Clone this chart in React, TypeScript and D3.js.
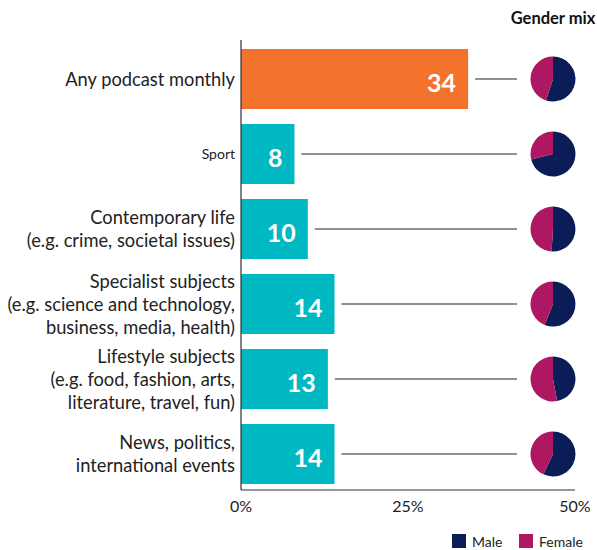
import React from "react";
import * as d3 from "d3";

const categories: string[][] = [
  ["Any podcast monthly"],
  ["Sport"],
  ["Contemporary life", "(e.g. crime, societal issues)"],
  ["Specialist subjects", "(e.g. science and technology,", "business, media, health)"],
  ["Lifestyle subjects", "(e.g. food, fashion, arts,", "literature, travel, fun)"],
  ["News, politics,", "international events"],
];
const values: number[] = [34, 8, 10, 14, 13, 14];
const malePct: number[] = [55, 71, 51, 56, 47, 57];
const tickValues: number[] = [0, 25, 50];
const legendItems = ["Male", "Female"];

const W = 597;
const H = 550;
const FONT = "Lato, 'Open Sans', sans-serif";
const ORANGE = "#f3732d";
const TEAL = "#00b8c1";
const NAVY = "#0a1d56";
const MAGENTA = "#ae1762";

export default function App() {
  const x = d3.scaleLinear().domain([0, 50]).range([241, 575]);
  const y = d3
    .scaleBand<number>()
    .domain(values.map((_, i) => i))
    .range([41.5, 491.5])
    .paddingInner(0.2)
    .paddingOuter(0.1);
  const pieGen = d3.pie<number>().sort(null).value((d) => d);
  const arc = d3.arc<d3.PieArcDatum<number>>().innerRadius(0).outerRadius(22.5);
  const pieX = 553;
  const lineH = 23;

  return (
    <svg
      width={W}
      height={H}
      style={{ position: "absolute", left: 0, top: 0, background: "#fff" }}
      fontFamily={FONT}
    >
      <text x={553} y={24} textAnchor="middle" fontSize={16.5} fontWeight={700} fill="#111">
        Gender mix
      </text>
      {values.map((v, i) => {
        const y0 = y(i)!;
        const bh = y.bandwidth();
        const cy = y0 + bh / 2;
        const lines = categories[i];
        const fs = i === 1 ? 14 : 18.3;
        const startY = cy - ((lines.length - 1) * lineH) / 2 + fs * 0.36;
        const pies = pieGen([malePct[i], 100 - malePct[i]]);
        return (
          <g key={i}>
            <rect x={x(0)} y={y0} width={x(v) - x(0)} height={bh} fill={i === 0 ? ORANGE : TEAL} />
            <text
              x={x(v) - 12}
              y={cy + 12.5}
              textAnchor="end"
              fontSize={25}
              fontWeight={700}
              fill="#fff"
            >
              {v}
            </text>
            <line x1={x(v) + 7} x2={517} y1={cy} y2={cy} stroke="#6b6b6b" strokeWidth={1.5} />
            {lines.map((l, j) => (
              <text
                key={j}
                x={235}
                y={startY + j * lineH}
                textAnchor="end"
                fontSize={fs}
                fill="#222"
              >
                {l}
              </text>
            ))}
            <g transform={`translate(${pieX},${cy})`}>
              {pies.map((p, k) => (
                <path key={k} d={arc(p) || ""} fill={k === 0 ? NAVY : MAGENTA} />
              ))}
            </g>
          </g>
        );
      })}
      <line x1={x(0)} x2={x(0)} y1={40} y2={490} stroke="#333" strokeWidth={1.2} />
      <line x1={x(0)} x2={x(50)} y1={490} y2={490} stroke="#333" strokeWidth={1.2} />
      {tickValues.map((t) => (
        <text key={t} x={x(t)} y={512} textAnchor="middle" fontSize={16} fill="#222">
          {t}%
        </text>
      ))}
      {legendItems.map((l, i) => {
        const lx = i === 0 ? 452 : 519;
        return (
          <g key={l}>
            <rect x={lx} y={534} width={14} height={14} fill={i === 0 ? NAVY : MAGENTA} />
            <text x={lx + 20} y={546.5} fontSize={14} fill="#222">
              {l}
            </text>
          </g>
        );
      })}
    </svg>
  );
}
